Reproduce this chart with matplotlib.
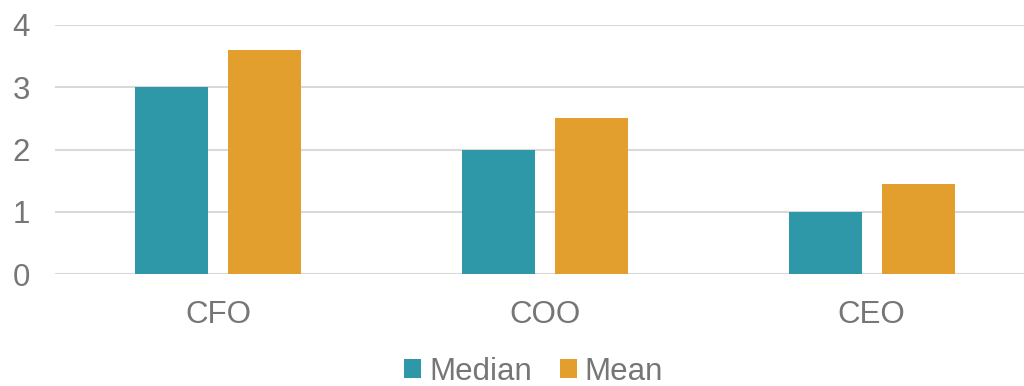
import numpy as np
import matplotlib
matplotlib.use('Agg')
import matplotlib.pyplot as plt

# DATA ================================================================

roles = ['CFO', 'COO', 'CEO']
median_vals = [3, 2, 1]
mean_vals = [3.6, 2.5, 1.45]
y_ticks = [0, 1, 2, 3, 4]

# STYLE ===============================================================

TEAL = '#2E98A9'
ORANGE = '#E39F2D'
GREY_TXT = '#767676'
GRID = '#D9D9D9'
FS = 22.5

plt.rcParams['font.family'] = ['Liberation Sans', 'DejaVu Sans']

fig = plt.figure(figsize=(10.24, 3.86), dpi=100)
ax = fig.add_axes([55 / 1024, 1 - 274 / 386, 1 - 55 / 1024, (274 - 25) / 386])

x = np.arange(len(roles))
w = 0.2235
off = 0.142

ax.bar(x - off, median_vals, w, color=TEAL, label='Median', zorder=3)
ax.bar(x + off, mean_vals, w, color=ORANGE, label='Mean', zorder=3)

# category slots are 326.7 px wide; the right side is cut by the figure edge
ax.set_xlim(-0.5, 2.5 - 11 / 326.7)
ax.set_ylim(0, 4)
ax.set_yticks(y_ticks)
ax.set_xticks(x)
ax.set_xticklabels(roles)

ax.yaxis.grid(True, color=GRID, linewidth=1.5, zorder=0)
ax.set_axisbelow(True)
for s in ax.spines.values():
    s.set_visible(False)
ax.tick_params(axis='both', length=0, labelsize=FS, colors=GREY_TXT)
ax.tick_params(axis='y', pad=18)
ax.tick_params(axis='x', pad=19)

leg = fig.legend(loc='lower center', bbox_to_anchor=(0.521, -0.075), ncol=2,
                 frameon=False, fontsize=FS, handlelength=0.55, handleheight=0.55,
                 handletextpad=0.25, columnspacing=0.9)
for t in leg.get_texts():
    t.set_color(GREY_TXT)

fig.savefig('out.png', dpi=100)
